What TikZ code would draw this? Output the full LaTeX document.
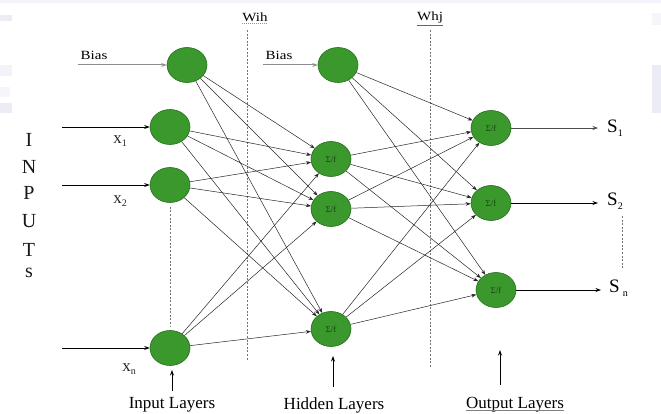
\documentclass[tikz,border=0pt]{standalone}
\usepackage{fontspec}
\setmainfont{Liberation Serif}
\usetikzlibrary{shapes.geometric,arrows.meta}
\definecolor{neurongreen}{RGB}{58,152,44}
\definecolor{neuronedge}{RGB}{36,110,28}
\definecolor{sigmagreen}{RGB}{24,72,18}
\definecolor{edgehaze}{RGB}{236,236,246}
\newcommand\lowsub[1]{\raisebox{-0.4ex}{\fontsize{10}{10}\selectfont #1}}
\begin{document}
\begin{tikzpicture}[x=1pt,y=-1pt,
  neuron/.style={ellipse, fill=neurongreen, draw=neuronedge, line width=0.6pt,
    minimum width=40pt, minimum height=35pt, inner sep=0pt,
    font=\fontsize{9}{9}\selectfont, text=sigmagreen},
  conn/.style={-{Stealth[length=5pt,width=3.6pt]}, draw=black!85, line width=0.5pt},
  feed/.style={-{Stealth[length=5.5pt,width=4pt]}, draw=black, line width=0.8pt},
  biasfeed/.style={-{Stealth[length=5.5pt,width=4pt]}, draw=black!45, line width=1pt},
  guide/.style={draw=black!55, dash pattern=on 2pt off 1.6pt, line width=0.45pt},
  small/.style={font=\fontsize{12.5}{12.5}\selectfont, xscale=1.2, inner sep=0pt},
  letter/.style={font=\fontsize{20}{20}\selectfont, text=black!90, inner sep=0pt},
  xlbl/.style={font=\fontsize{17}{17}\selectfont, text=black!85, inner sep=0pt},
  slbl/.style={font=\fontsize{19}{19}\selectfont, inner sep=0pt, anchor=west},
  layerlbl/.style={font=\fontsize{17}{17}\selectfont, inner sep=0pt}
]
\useasboundingbox (0,0) rectangle (661,414);
\fill[white] (0,0) rectangle (661,414);

% faint marks along the edges
\fill[edgehaze!60] (0,0) rectangle (661,3);
\fill[edgehaze] (0,15) rectangle (12,21);
\fill[edgehaze!70] (0,65) rectangle (12,76);
\fill[edgehaze!50] (0,87) rectangle (10,97);
\fill[edgehaze] (0,103) rectangle (12,113);
\fill[edgehaze!50] (652,13) rectangle (661,25);
\fill[edgehaze] (652,65) rectangle (661,113);

% weight boundaries
\coordinate (wihtop) at (247,30);
\coordinate (wihbot) at (247,360);
\coordinate (whjtop) at (430,30);
\coordinate (whjbot) at (430,368);
\draw[guide] (wihtop) -- (wihbot);
\draw[guide] (whjtop) -- (whjbot);
\node[small] (wih) at (255,17) {Wih};
\node[small] (whj) at (430,17) {Whj};
\draw[red!60, dash pattern=on 1pt off 1pt, line width=0.5pt]
  ([yshift=-2pt]wih.south west) -- ([yshift=-2pt]wih.south east);
\draw[black!60, line width=0.5pt]
  ([yshift=-2pt]whj.south west) -- ([yshift=-2pt]whj.south east);

% neurons
\node[neuron] (ib) at (187,65) {};
\node[neuron] (i1) at (170,127) {};
\node[neuron] (i2) at (170,185) {};
\node[neuron] (ix) at (170,348) {};
\node[neuron] (hb) at (338,65) {};
\node[neuron] (h1) at (331,159) {Σ/f};
\node[neuron] (h2) at (331,209) {Σ/f};
\node[neuron] (h3) at (331,329) {Σ/f};
\node[neuron] (o1) at (491,128) {Σ/f};
\node[neuron] (o2) at (491,203) {Σ/f};
\node[neuron] (o3) at (496,290) {Σ/f};

% fully connected weights
\foreach \s in {ib,i1,i2,ix}
  \foreach \t in {h1,h2,h3}
    \draw[conn] (\s) -- (\t);
\foreach \s in {hb,h1,h2,h3}
  \foreach \t in {o1,o2,o3}
    \draw[conn] (\s) -- (\t);

% omitted input neurons
\draw[guide] ([yshift=-4pt]i2.south) -- ([yshift=3pt]ix.north);

% bias inputs
\node[small] (biasin) at (94,55) {Bias};
\node[small] (biash) at (279,55) {Bias};
\coordinate (bsrc) at (78,65);
\coordinate (hbsrc) at (263,65);
\draw[biasfeed] (bsrc) -- (ib.west);
\draw[biasfeed] (hbsrc) -- (hb.west);

% input signals
\coordinate (x1src) at (62,127);
\coordinate (x2src) at (62,185);
\coordinate (xnsrc) at (62,348);
\draw[feed] (x1src) -- (i1.west);
\draw[feed] (x2src) -- (i2.west);
\draw[feed] (xnsrc) -- (ix.west);
\node[xlbl] (x1) at (120,141) {x\lowsub{1}};
\node[xlbl] (x2) at (120,201) {x\lowsub{2}};
\node[xlbl] (xn) at (129,369) {x\lowsub{n}};

% vertical caption
\foreach \ch/\yy [count=\k] in {I/140,N/167,P/193,U/221,T/250,s/273}
  \node[letter] (cap\k) at (29,\yy) {\ch};

% outputs
\coordinate (s1end) at (598,128);
\coordinate (s2end) at (598,203);
\coordinate (snend) at (601,290);
\draw[feed, line width=0.6pt, draw=black!70] (o1) -- (s1end);
\draw[feed] (o2) -- (s2end);
\draw[feed] (o3) -- (snend);
\node[slbl] (s1) at (607,128) {S\lowsub{1}};
\node[slbl] (s2) at (607,201) {S\lowsub{2}};
\node[slbl] (sn) at (609,288) {S\,\lowsub{n}};
\coordinate (sdtop) at (622,216);
\coordinate (sdbot) at (622,268);
\draw[guide] (sdtop) -- (sdbot);

% layer captions
\node[layerlbl] (inl) at (172,405) {Input Layers};
\node[layerlbl] (hdl) at (334,405) {Hidden Layers};
\node[layerlbl] (otl) at (515,405) {Output Layers};
\draw[black!50, line width=0.5pt]
  ([yshift=-1.5pt]otl.base west) -- ([yshift=-1.5pt]otl.base east);
\coordinate (inarr) at (172,391);
\coordinate (hdarr) at (333,387);
\coordinate (otarr) at (500,385);
\coordinate (inarrtip) at (172,370);
\coordinate (hdarrtip) at (333,356);
\coordinate (otarrtip) at (500,350);
\draw[feed] (inarr) -- (inarrtip);
\draw[feed] (hdarr) -- (hdarrtip);
\draw[feed] (otarr) -- (otarrtip);
\end{tikzpicture}
\end{document}
